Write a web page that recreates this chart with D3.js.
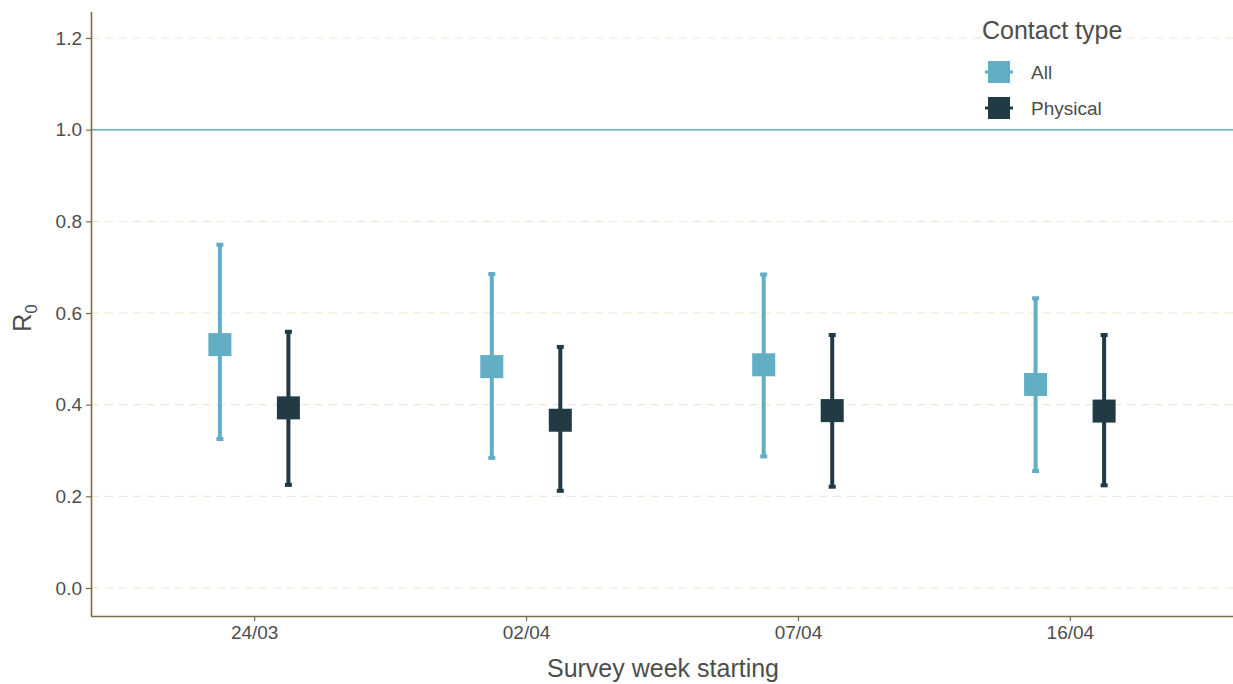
<!DOCTYPE html>
<html>
<head>
<meta charset="utf-8">
<script src="https://cdn.jsdelivr.net/npm/d3@7"></script>
<style>
body { margin: 0; background: #fff; }
text { font-family: "Liberation Sans", Arial, sans-serif; }
</style>
</head>
<body>
<div id="chart"></div>
<script>
var w = 1233,
	h = 684;

var weeks = ["24/03", "02/04", "07/04", "16/04"];
var types = ["All", "Physical"];
var colors = ["#62aec5", "#213a43"];

// estimates and 95% intervals
var allMid = [0.531, 0.483, 0.487, 0.444];
var allLow = [0.325, 0.284, 0.287, 0.255];
var allHigh = [0.749, 0.685, 0.684, 0.632];
var physMid = [0.393, 0.366, 0.387, 0.386];
var physLow = [0.225, 0.212, 0.221, 0.224];
var physHigh = [0.559, 0.526, 0.552, 0.552];

var yTicks = [0, 0.2, 0.4, 0.6, 0.8, 1.0, 1.2];

var rows = [];
weeks.forEach(function(wk, i) {
	rows.push({ week: wk, i: i, type: 0, mid: allMid[i], lo: allLow[i], hi: allHigh[i] });
	rows.push({ week: wk, i: i, type: 1, mid: physMid[i], lo: physLow[i], hi: physHigh[i] });
});

var svg = d3.select("#chart").append("svg")
	.attr("width", w)
	.attr("height", h);

var pLeft = 91, pRight = 1233, pTop = 12, pBottom = 616;

var x = d3.scaleLinear().domain([0.4, weeks.length + 0.6]).range([pLeft, pRight]);
var y = d3.scaleLinear().domain([-0.0611, 1.2567]).range([pBottom, pTop]);
var dodge = 0.126;

// grid
svg.append("g").selectAll("line").data(yTicks).enter().append("line")
	.attr("x1", pLeft).attr("x2", pRight)
	.attr("y1", function(d) { return y(d); })
	.attr("y2", function(d) { return y(d); })
	.attr("stroke", "#e9e4d2")
	.attr("stroke-width", 1)
	.attr("stroke-dasharray", "8,6");

// reference line at R0 = 1
svg.append("line")
	.attr("x1", pLeft).attr("x2", pRight)
	.attr("y1", y(1)).attr("y2", y(1))
	.attr("stroke", colors[0])
	.attr("stroke-width", 1.5);

// axes
var yAxis = svg.append("g")
	.attr("transform", `translate(${pLeft},0)`)
	.call(d3.axisLeft(y).tickValues(yTicks).tickFormat(d3.format(".1f")).tickSize(5).tickPadding(4));
var xAxis = svg.append("g")
	.attr("transform", `translate(0,${pBottom})`)
	.call(d3.axisBottom(x).tickValues(d3.range(1, weeks.length + 1))
		.tickFormat(function(d) { return weeks[d - 1]; }).tickSize(5).tickPadding(5));

[yAxis, xAxis].forEach(function(a) {
	a.select(".domain").attr("stroke", "#7f6a47").attr("stroke-width", 1.6);
	a.selectAll(".tick line").attr("stroke", "#7f6a47").attr("stroke-width", 1.2);
	a.selectAll(".tick text").attr("fill", "#4d4d4d").style("font-size", "19px")
		.style("font-family", "Liberation Sans, Arial, sans-serif");
});
xAxis.select(".domain").attr("d", `M${pLeft},0.5H${pRight}`);
yAxis.select(".domain").attr("d", `M0.5,${pTop}V${pBottom}`);

function xpos(d) { return x(d.i + 1) + (d.type == 0 ? -dodge : dodge) * (x(1) - x(0)); }

// error bars
var bars = svg.append("g").selectAll("g").data(rows).enter().append("g");
bars.append("line")
	.attr("x1", xpos).attr("x2", xpos)
	.attr("y1", function(d) { return y(d.lo); })
	.attr("y2", function(d) { return y(d.hi); })
	.attr("stroke", function(d) { return colors[d.type]; })
	.attr("stroke-width", 4);
["lo", "hi"].forEach(function(k) {
	bars.append("rect")
		.attr("x", function(d) { return xpos(d) - 3.5; })
		.attr("y", function(d) { return y(d[k]) - 2; })
		.attr("width", 7)
		.attr("height", 4)
		.attr("fill", function(d) { return colors[d.type]; });
});
bars.append("rect")
	.attr("x", function(d) { return xpos(d) - 11.5; })
	.attr("y", function(d) { return y(d.mid) - 11.5; })
	.attr("width", 23)
	.attr("height", 23)
	.attr("fill", function(d) { return colors[d.type]; });

// axis titles
svg.append("text")
	.attr("x", 663).attr("y", 677)
	.attr("text-anchor", "middle")
	.attr("fill", "#4d4d4d")
	.style("font-size", "25px")
	.text("Survey week starting");

var yt = svg.append("text")
	.attr("transform", "translate(31,318) rotate(-90)")
	.attr("text-anchor", "middle")
	.attr("fill", "#4d4d4d")
	.style("font-size", "25px");
yt.append("tspan").text("R");
yt.append("tspan").attr("dy", 6).style("font-size", "17px").text("0");

// legend
var lg = svg.append("g");
lg.append("text")
	.attr("x", 982).attr("y", 39)
	.attr("fill", "#4d4d4d")
	.style("font-size", "25px")
	.text("Contact type");
types.forEach(function(t, i) {
	var cy = 72 + i * 36;
	lg.append("line")
		.attr("x1", 985).attr("x2", 1013)
		.attr("y1", cy).attr("y2", cy)
		.attr("stroke", colors[i]).attr("stroke-width", 3);
	lg.append("rect")
		.attr("x", 988).attr("y", cy - 11)
		.attr("width", 22).attr("height", 22)
		.attr("fill", colors[i]);
	lg.append("text")
		.attr("x", 1031).attr("y", cy + 7)
		.attr("fill", "#4d4d4d")
		.style("font-size", "19px")
		.text(t);
});
</script>
</body>
</html>
